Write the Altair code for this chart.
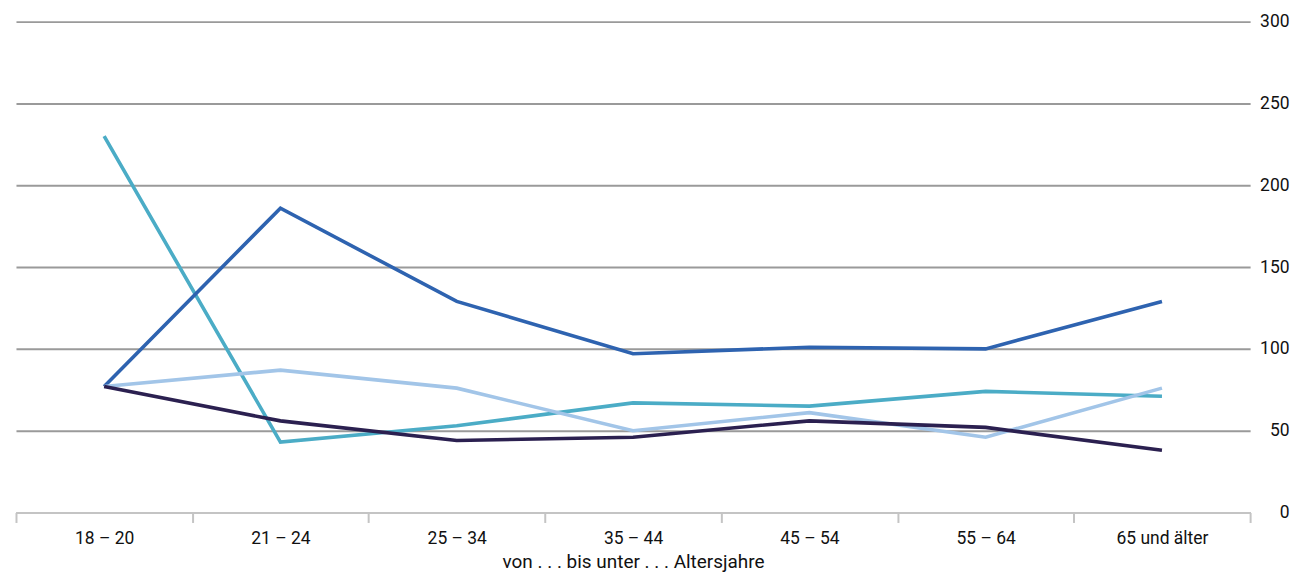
import altair as alt
import pandas as pd

categories = ["18 – 20", "21 – 24", "25 – 34", "35 – 44", "45 – 54", "55 – 64", "65 und älter"]
series_names = ["Reihe A", "Reihe B", "Reihe C", "Reihe D"]
teal = [230, 43, 53, 67, 65, 74, 71]
blue = [77, 186, 129, 97, 101, 100, 129]
light = [77, 87, 76, 50, 61, 46, 76]
dark = [77, 56, 44, 46, 56, 52, 38]
colors = ["#4BACC6", "#2E63B0", "#A2C5E8", "#2B2050"]
y_ticks = [0, 50, 100, 150, 200, 250, 300]

rows = []
for name, vals in zip(series_names, [teal, blue, light, dark]):
    for i, (c, v) in enumerate(zip(categories, vals)):
        rows.append({"Alter": c, "Wert": v, "Serie": name, "ord": i})
df = pd.DataFrame(rows)

FONT = "Roboto"

chart = alt.Chart(df).mark_line(strokeWidth=3.6).encode(
    x=alt.X("Alter:N", sort=categories,
            scale=alt.Scale(paddingInner=0, paddingOuter=0),
            axis=alt.Axis(title="von . . . bis unter . . . Altersjahre", labelAngle=0,
                          tickBand="extent", tickSize=10, tickColor="#c4c4c4", tickWidth=2,
                          domainColor="#c4c4c4", domainWidth=2, grid=False,
                          labelFont=FONT, labelFontSize=17.5, labelColor="#111",
                          labelPadding=7, titleFont=FONT, titleFontSize=19,
                          titleFontWeight="normal", titleColor="#111", titlePadding=6)),
    y=alt.Y("Wert:Q", scale=alt.Scale(domain=[0, 300], nice=False),
            axis=alt.Axis(orient="right", values=y_ticks, title=None, ticks=False,
                          domain=False, grid=True, gridColor="#9a9a9a", gridWidth=2,
                          labelAlign="right", labelPadding=39, labelFont=FONT,
                          labelFontSize=17.5, labelColor="#111")),
    color=alt.Color("Serie:N", sort=series_names,
                    scale=alt.Scale(domain=series_names, range=colors), legend=None),
    order="ord:Q",
).properties(
    width=1237, height=492,
    autosize=alt.AutoSizeParams(type="none"),
    padding={"left": 8, "top": 13, "right": 50, "bottom": 60},
).configure_view(stroke=None)

chart.save("out.html", embed_options={"renderer": "svg", "actions": False})
